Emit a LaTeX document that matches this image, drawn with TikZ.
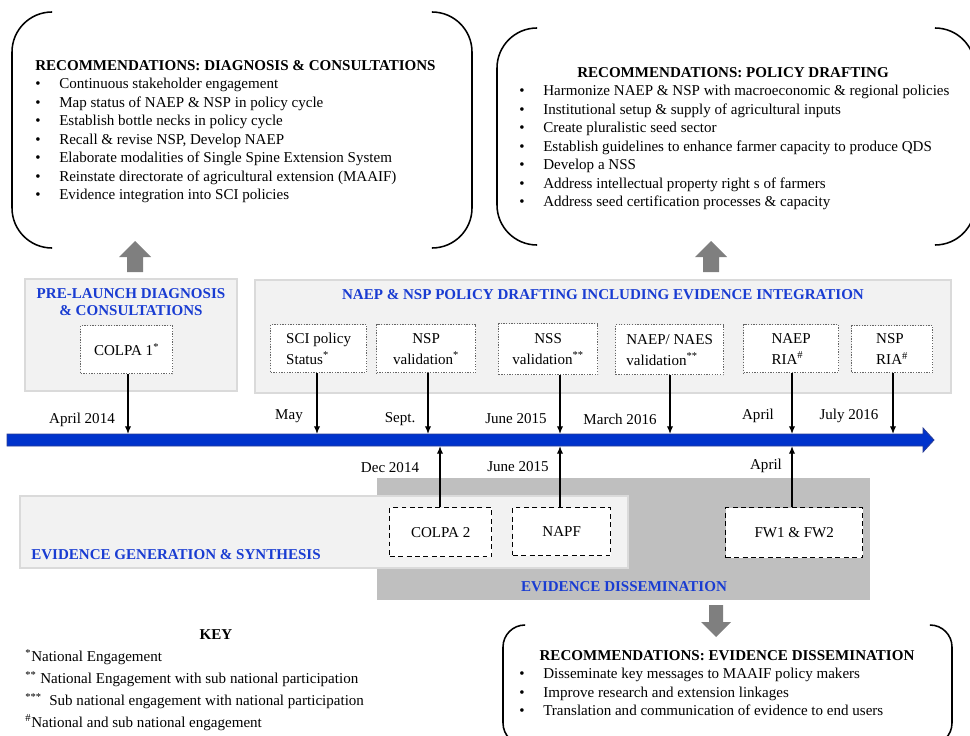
\documentclass[tikz,border=0pt]{standalone}
\usepackage{fontspec}
\setmainfont{Liberation Serif}
\usetikzlibrary{arrows.meta}

\definecolor{headblue}{RGB}{25,60,210}
\definecolor{lineblue}{RGB}{0,51,204}
\definecolor{lineedge}{RGB}{40,60,150}
\definecolor{panelgray}{RGB}{242,242,242}
\definecolor{paneledge}{RGB}{218,218,218}
\definecolor{darkpanel}{RGB}{191,191,191}
\definecolor{blockgray}{RGB}{127,127,127}
\newcommand{\pxu}{0.025cm}
\newcommand{\bul}{\makebox[0.6cm][l]{\textbullet}}

\tikzset{
  txt/.style={font=\fontsize{10.7}{13.15}\selectfont, inner sep=0pt},
  headline/.style={txt, font=\fontsize{10.7}{13.15}\selectfont\bfseries},
  bluehead/.style={txt, font=\fontsize{10.7}{12.2}\selectfont\bfseries, text=headblue},
  listtxt/.style={txt, align=left, anchor=north west},
  bracket/.style={line width=1.1pt, rounded corners=1cm},
  panel/.style={fill=panelgray, draw=paneledge, line width=1pt},
  eventbox/.style={draw=black!60, densely dotted, line width=0.9pt, fill=white,
    font=\fontsize{10.7}{14.9}\selectfont, inner sep=2pt, anchor=north west},
  dashbox/.style={draw=black, dash pattern=on 3.5pt off 2.5pt, line width=1pt, fill=white,
    font=\fontsize{10.7}{13.15}\selectfont, anchor=north west},
  tick/.style={-{Latex[length=5.5pt,width=4.5pt]}, line width=0.9pt}
}

\begin{document}
\begin{tikzpicture}[x=0.025cm,y=-0.025cm]
  \path[use as bounding box, clip] (0,0) rectangle (970,735);

  % Recommendation brackets
  \draw[bracket] (52,12) -- (12,12) -- (12,248) -- (52,248);
  \draw[bracket] (432,12) -- (472,12) -- (472,248) -- (432,248);
  \node[headline, anchor=west] (diaghead) at (35,66) {RECOMMENDATIONS: DIAGNOSIS \& CONSULTATIONS};
  \node[listtxt] (diaglist) at (35,78) {\bul Continuous stakeholder engagement\\
    \bul Map status of NAEP \& NSP in policy cycle\\
    \bul Establish bottle necks in policy cycle\\
    \bul Recall \& revise NSP, Develop NAEP\\
    \bul Elaborate modalities of Single Spine Extension System\\
    \bul Reinstate directorate of agricultural extension (MAAIF)\\
    \bul Evidence integration into SCI policies};

  \draw[bracket] (537,28) -- (497,28) -- (497,245) -- (537,245);
  \draw[bracket] (935,28) -- (975,28) -- (975,245) -- (935,245);
  \node[headline] (drafthead) at (733,73) {RECOMMENDATIONS: POLICY DRAFTING};
  \node[listtxt] (draftlist) at (519,85) {\bul Harmonize NAEP \& NSP with macroeconomic \& regional policies\\
    \bul Institutional setup \& supply of agricultural inputs\\
    \bul Create pluralistic seed sector\\
    \bul Establish guidelines to enhance farmer capacity to produce QDS\\
    \bul Develop a NSS\\
    \bul Address intellectual property right s of farmers\\
    \bul Address seed certification processes \& capacity};

  \draw[bracket, rounded corners=0.55cm] (525,625) -- (503,625) -- (503,745) -- (525,745);
  \draw[bracket, rounded corners=0.55cm] (930,625) -- (952,625) -- (952,745) -- (930,745);
  \node[headline] (disshead) at (727,656) {RECOMMENDATIONS: EVIDENCE DISSEMINATION};
  \node[listtxt] (disslist) at (519,668) {\bul Disseminate key messages to MAAIF policy makers\\
    \bul Improve research and extension linkages\\
    \bul Translation and communication of evidence to end users};

  % Block arrows
  \fill[blockgray] (127,272) -- (127,257) -- (119,257) -- (135,241) -- (151,257) -- (143,257) -- (143,272) -- cycle;
  \fill[blockgray] (703,272) -- (703,257) -- (695,257) -- (711,241) -- (727,257) -- (719,257) -- (719,272) -- cycle;
  \fill[blockgray] (709,605) -- (709,622) -- (701,622) -- (716,637) -- (731,622) -- (723,622) -- (723,605) -- cycle;

  % Phase panels
  \draw[panel] (25,279) rectangle (237,391);
  \node[bluehead, align=center] (prehead) at (131,302) {PRE-LAUNCH DIAGNOSIS\\\& CONSULTATIONS};
  \draw[panel] (255,280) rectangle (951,393);
  \node[bluehead] (drafting) at (603,295) {NAEP \& NSP POLICY DRAFTING INCLUDING EVIDENCE INTEGRATION};
  \fill[darkpanel] (377,478) rectangle (870,600);
  \draw[panel] (20,496) rectangle (628,568);
  \node[bluehead, anchor=west] (genhead) at (31,555) {EVIDENCE GENERATION \& SYNTHESIS};
  \node[bluehead] (disshead2) at (624,587) {EVIDENCE DISSEMINATION};

  % Events
  \node[eventbox, minimum width=92*\pxu, minimum height=48*\pxu] (colpa1) at (80,325) {COLPA 1\textsuperscript{*}};
  \node[eventbox, align=left, minimum width=96*\pxu, minimum height=48*\pxu] (sci) at (270,324) {SCI policy\\Status\textsuperscript{*}};
  \node[eventbox, align=center, minimum width=99*\pxu, minimum height=48*\pxu] (nspval) at (376,324) {NSP\\validation\textsuperscript{*}};
  \node[eventbox, align=center, minimum width=99*\pxu, minimum height=51*\pxu] (nssval) at (498,323) {NSS\\validation\textsuperscript{**}};
  \node[eventbox, align=left, minimum width=108*\pxu, minimum height=50*\pxu] (naesval) at (615,324) {NAEP/ NAES\\validation\textsuperscript{**}};
  \node[eventbox, align=left, minimum width=95*\pxu, minimum height=48*\pxu] (naepria) at (743,324) {NAEP\\RIA\textsuperscript{\#}};
  \node[eventbox, align=left, minimum width=81*\pxu, minimum height=47*\pxu] (nspria) at (851,325) {NSP\\RIA\textsuperscript{\#}};

  \node[dashbox, minimum width=102*\pxu, minimum height=49*\pxu] (colpa2) at (389,507) {COLPA 2};
  \node[dashbox, minimum width=98*\pxu, minimum height=48*\pxu] (napf) at (512,507) {NAPF};
  \node[dashbox, minimum width=137*\pxu, minimum height=50*\pxu] (fw) at (725,507) {FW1 \& FW2};

  % Timeline
  \draw[fill=lineblue, draw=lineedge, line width=0.6pt] (7,434) -- (923,434) -- (923,428) -- (934,440)
    -- (923,452) -- (923,446) -- (7,446) -- cycle;
  \coordinate (apr14) at (128,434);
  \coordinate (may15) at (317,434);
  \coordinate (sep15) at (428,434);
  \coordinate (jun15) at (560,434);
  \coordinate (mar16) at (670,434);
  \coordinate (apr16) at (792,434);
  \coordinate (jul16) at (893,434);
  \coordinate (dec14) at (440,446);
  \coordinate (jun15b) at (560,446);
  \coordinate (apr16b) at (792,446);

  \draw[tick] (colpa1.south -| apr14) -- (apr14);
  \draw[tick] (sci.south -| may15) -- (may15);
  \draw[tick] (nspval.south -| sep15) -- (sep15);
  \draw[tick] (nssval.south -| jun15) -- (jun15);
  \draw[tick] (naesval.south -| mar16) -- (mar16);
  \draw[tick] (naepria.south -| apr16) -- (apr16);
  \draw[tick] (nspria.south -| jul16) -- (jul16);
  \draw[tick] (colpa2.north -| dec14) -- (dec14);
  \draw[tick] (napf.north -| jun15b) -- (jun15b);
  \draw[tick] (fw.north -| apr16b) -- (apr16b);

  % Dates
  \node[txt] (dapr14) at (82,420) {April 2014};
  \node[txt] (dmay) at (289,416) {May};
  \node[txt] (dsep) at (400,419) {Sept.};
  \node[txt] (djun15) at (516,419) {June 2015};
  \node[txt] (dmar16) at (620,419) {March 2016};
  \node[txt] (dapr) at (758,416) {April};
  \node[txt] (djul16) at (849,416) {July 2016};
  \node[txt] (ddec14) at (390,468) {Dec 2014};
  \node[txt] (djun15b) at (518,467) {June 2015};
  \node[txt] (daprb) at (766,466) {April};

  % Key
  \node[headline] (keyhead) at (216,635) {KEY};
  \node[listtxt, font=\fontsize{10.7}{15.6}\selectfont] (keylist) at (25,649) {\textsuperscript{*}National Engagement\\
    \textsuperscript{**} National Engagement with sub national participation\\
    \textsuperscript{***}\ \ Sub national engagement with national participation\\
    \textsuperscript{\#}National and sub national engagement};
\end{tikzpicture}
\end{document}
